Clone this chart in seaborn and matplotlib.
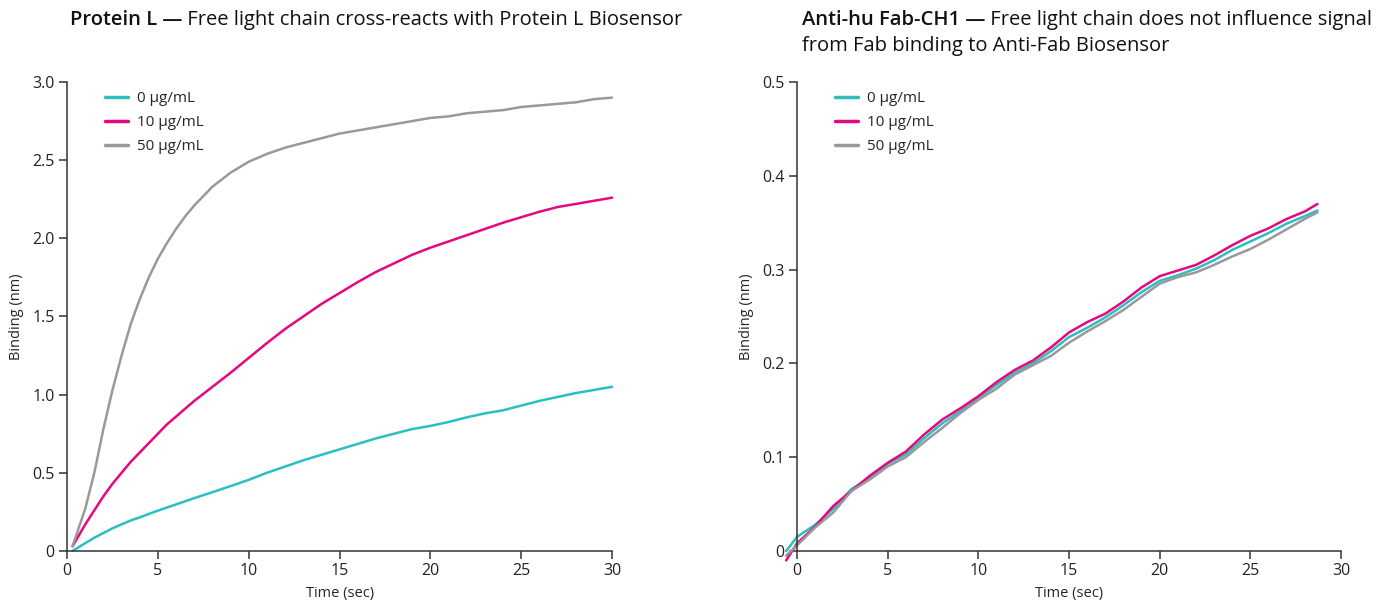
import seaborn as sns
import matplotlib
matplotlib.use("Agg")
import matplotlib.pyplot as plt
import pandas as pd

sns.set_theme(style="ticks")
plt.rcParams['font.family'] = ['Open Sans', 'DejaVu Sans']

concs = ["0 µg/mL", "10 µg/mL", "50 µg/mL"]
colors = ["#2bbfbf", "#e5087f", "#999999"]

# Protein L panel
time_l = [0.3, 1, 1.5, 2, 2.5, 3, 3.5, 4, 4.5, 5, 5.5, 6, 6.5, 7, 7.5, 8,
          9, 10, 11, 12, 13, 14, 15, 16, 17, 18, 19, 20,
          21, 22, 23, 24, 25, 26, 27, 28, 29, 30]
teal_l = [0.0, 0.05, 0.085, 0.115, 0.145, 0.17, 0.195, 0.215, 0.237, 0.258, 0.278, 0.298, 0.318, 0.338, 0.357, 0.376,
          0.415, 0.455, 0.5, 0.54, 0.58, 0.615, 0.65, 0.685, 0.72, 0.75, 0.78, 0.8,
          0.825, 0.855, 0.88, 0.9, 0.93, 0.96, 0.985, 1.01, 1.03, 1.05]
pink_l = [0.03, 0.17, 0.26, 0.35, 0.43, 0.5, 0.57, 0.63, 0.69, 0.75, 0.81, 0.86, 0.91, 0.96, 1.005, 1.05,
          1.14, 1.235, 1.33, 1.42, 1.5, 1.58, 1.65, 1.72, 1.785, 1.84, 1.895, 1.94,
          1.98, 2.02, 2.06, 2.1, 2.135, 2.17, 2.2, 2.22, 2.24, 2.26]
gray_l = [0.03, 0.27, 0.5, 0.78, 1.03, 1.25, 1.45, 1.61, 1.75, 1.87, 1.97, 2.06, 2.14, 2.21, 2.27, 2.33,
          2.42, 2.49, 2.54, 2.58, 2.61, 2.64, 2.67, 2.69, 2.71, 2.73, 2.75, 2.77,
          2.78, 2.8, 2.81, 2.82, 2.84, 2.85, 2.86, 2.87, 2.89, 2.9]

# Anti-hu Fab-CH1 panel
time_r = [-0.6] + list(range(0, 29)) + [28.7]
teal_r = [0.0, 0.015, 0.028, 0.045, 0.066, 0.078, 0.093, 0.103, 0.12, 0.136, 0.149,
          0.163, 0.177, 0.19, 0.2, 0.213, 0.228, 0.238, 0.249, 0.262, 0.276,
          0.288, 0.294, 0.301, 0.31, 0.321, 0.33, 0.339, 0.349, 0.357, 0.363]
pink_r = [-0.01, 0.008, 0.026, 0.048, 0.064, 0.08, 0.094, 0.106, 0.124, 0.14, 0.152,
          0.165, 0.18, 0.193, 0.203, 0.217, 0.233, 0.244, 0.253, 0.266, 0.281,
          0.293, 0.299, 0.305, 0.315, 0.326, 0.336, 0.344, 0.354, 0.362, 0.37]
gray_r = [-0.005, 0.006, 0.025, 0.041, 0.064, 0.076, 0.09, 0.1, 0.116, 0.131, 0.147,
          0.161, 0.173, 0.188, 0.198, 0.208, 0.222, 0.234, 0.245, 0.257, 0.271,
          0.285, 0.292, 0.297, 0.305, 0.314, 0.322, 0.332, 0.343, 0.354, 0.361]


def long_df(t, series):
    rows = []
    for name, vals in zip(concs, series):
        for x, y in zip(t, vals):
            rows.append({"time": x, "binding": y, "conc": name})
    return pd.DataFrame(rows)


df_l = long_df(time_l, [teal_l, pink_l, gray_l])
df_r = long_df(time_r, [teal_r, pink_r, gray_r])
pal = dict(zip(concs, colors))

fig = plt.figure(figsize=(14, 6.06), dpi=100)
ax1 = fig.add_axes([0.0479, 0.0908, 0.3893, 0.7739])
ax2 = fig.add_axes([0.5693, 0.0908, 0.3886, 0.7739])

for ax, df, ymax, yticks, ylabels in [
    (ax1, df_l, 3.0, [0, 0.5, 1.0, 1.5, 2.0, 2.5, 3.0],
     ["0", "0.5", "1.0", "1.5", "2.0", "2.5", "3.0"]),
    (ax2, df_r, 0.5, [0, 0.1, 0.2, 0.3, 0.4, 0.5],
     ["0", "0.1", "0.2", "0.3", "0.4", "0.5"]),
]:
    sns.lineplot(data=df, x="time", y="binding", hue="conc", palette=pal,
                 linewidth=1.8, ax=ax)
    for ln in ax.lines:
        ln.set_clip_on(False)
    ax.set_xlim(0, 30)
    ax.set_ylim(0, ymax)
    ax.set_xticks([0, 5, 10, 15, 20, 25, 30])
    ax.set_yticks(yticks)
    ax.set_yticklabels(ylabels)
    ax.set_xlabel("Time (sec)", fontsize=10.5, labelpad=5)
    ax.set_ylabel("Binding (nm)", fontsize=10.5, labelpad=6)
    ax.tick_params(axis="both", labelsize=11.5, length=6, width=1.1,
                   color="#333333", labelcolor="#222222", pad=3)
    for s in ["top", "right"]:
        ax.spines[s].set_visible(False)
    for s in ["left", "bottom"]:
        ax.spines[s].set_linewidth(1.1)
        ax.spines[s].set_color("#333333")
    leg = ax.legend(loc="upper left", bbox_to_anchor=(0.045, 1.01), frameon=False,
                    fontsize=11, handlelength=1.5, handletextpad=0.6,
                    labelspacing=0.6, title=None)
    for h in leg.legend_handles:
        h.set_linewidth(2.5)

fig.canvas.draw()
renderer = fig.canvas.get_renderer()


def two_part_title(x, y, bold, rest, second=None):
    t = fig.text(x, y, bold + " —", fontsize=14.5, fontweight="semibold",
                 color="#111111", va="baseline")
    bb = t.get_window_extent(renderer=renderer)
    x2 = bb.x1 / fig.bbox.width
    fig.text(x2, y, " " + rest, fontsize=14.5, color="#111111", va="baseline")
    if second:
        fig.text(x, y - 26 / 606, second, fontsize=14.5, color="#111111",
                 va="baseline")


two_part_title(70 / 1400, 1 - 25 / 606, "Protein L",
               "Free light chain cross-reacts with Protein L Biosensor")
two_part_title(802 / 1400, 1 - 25 / 606, "Anti-hu Fab-CH1",
               "Free light chain does not influence signal",
               "from Fab binding to Anti-Fab Biosensor")

fig.savefig("out.png", dpi=100)
